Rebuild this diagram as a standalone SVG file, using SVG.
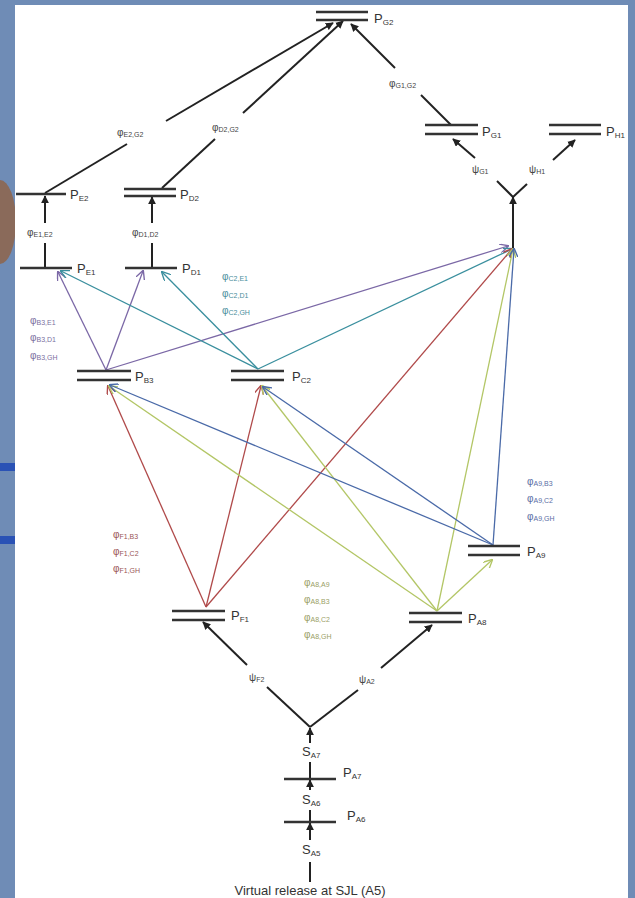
<svg xmlns="http://www.w3.org/2000/svg" width="635" height="898" viewBox="0 0 635 898">
<style>
.bar{stroke:#333;stroke-width:2.5;fill:none}
.blk{stroke:#222;stroke-width:2;fill:none}
.c{stroke-width:1.3;fill:none}
.pl{font-family:"Liberation Sans",Arial,sans-serif;font-size:13px;fill:#333}
.ph{font-family:"Liberation Sans",Arial,sans-serif;font-size:10px;fill:#444}
.sub{font-size:7px}
.psub{font-size:8px}
.pu{fill:#7b6fa0}.te{fill:#4a8e9c}.re{fill:#9a5555}.gr{fill:#9aa066}.bl{fill:#5a6ea5}
</style>
<defs>
<marker id="ak" viewBox="0 0 10 10" refX="9" refY="5" markerWidth="4" markerHeight="4" orient="auto" markerUnits="strokeWidth"><path d="M0,0 L10,5 L0,10 Z" fill="#222"/></marker>
<marker id="apu" viewBox="0 0 10 10" refX="9" refY="5" markerWidth="7" markerHeight="7" orient="auto" markerUnits="strokeWidth"><path d="M0,0 L10,5 L0,10" fill="none" stroke="#7b68a6" stroke-width="1.5"/></marker>
<marker id="ate" viewBox="0 0 10 10" refX="9" refY="5" markerWidth="7" markerHeight="7" orient="auto" markerUnits="strokeWidth"><path d="M0,0 L10,5 L0,10" fill="none" stroke="#3a8f9e" stroke-width="1.5"/></marker>
<marker id="are" viewBox="0 0 10 10" refX="9" refY="5" markerWidth="7" markerHeight="7" orient="auto" markerUnits="strokeWidth"><path d="M0,0 L10,5 L0,10" fill="none" stroke="#b04a4a" stroke-width="1.5"/></marker>
<marker id="agr" viewBox="0 0 10 10" refX="9" refY="5" markerWidth="7" markerHeight="7" orient="auto" markerUnits="strokeWidth"><path d="M0,0 L10,5 L0,10" fill="none" stroke="#b3c666" stroke-width="1.5"/></marker>
<marker id="abl" viewBox="0 0 10 10" refX="9" refY="5" markerWidth="7" markerHeight="7" orient="auto" markerUnits="strokeWidth"><path d="M0,0 L10,5 L0,10" fill="none" stroke="#4a6aa8" stroke-width="1.5"/></marker>
</defs>
<g id="background">
<rect x="0" y="0" width="635" height="898" fill="#6f8cb6"/>
<ellipse cx="0" cy="222" rx="16" ry="42" fill="#8a6a5a"/>
<rect x="0" y="463" width="16" height="8" fill="#2a52b5"/>
<rect x="0" y="536" width="16" height="8" fill="#2a52b5"/>
<rect x="15" y="5" width="613" height="893" fill="#ffffff"/>
</g>
<g id="connectors">
<g id="black">
<line class="blk" x1="45" y1="193" x2="127" y2="144"/>
<line class="blk" x1="166" y1="121" x2="333" y2="23" marker-end="url(#ak)"/>
<line class="blk" x1="162" y1="188" x2="215" y2="139"/>
<line class="blk" x1="243" y1="113" x2="343" y2="21" marker-end="url(#ak)"/>
<line class="blk" x1="451" y1="125" x2="421" y2="95"/>
<line class="blk" x1="395" y1="68" x2="351" y2="24" marker-end="url(#ak)"/>
<line class="blk" x1="45" y1="268" x2="45" y2="243"/>
<line class="blk" x1="45" y1="223" x2="45" y2="196" marker-end="url(#ak)"/>
<line class="blk" x1="152" y1="268" x2="152" y2="243"/>
<line class="blk" x1="152" y1="223" x2="152" y2="197" marker-end="url(#ak)"/>
<line class="blk" x1="513" y1="248" x2="513" y2="197" marker-end="url(#ak)"/>
<line class="blk" x1="513" y1="197" x2="497" y2="181"/>
<line class="blk" x1="475" y1="158" x2="453" y2="139" marker-end="url(#ak)"/>
<line class="blk" x1="513" y1="197" x2="527" y2="184"/>
<line class="blk" x1="553" y1="160" x2="575" y2="140" marker-end="url(#ak)"/>
<line class="blk" x1="310" y1="727" x2="267" y2="687"/>
<line class="blk" x1="247" y1="665" x2="203" y2="622" marker-end="url(#ak)"/>
<line class="blk" x1="310" y1="727" x2="358" y2="690"/>
<line class="blk" x1="381" y1="668" x2="432" y2="625" marker-end="url(#ak)"/>
<line class="blk" x1="310" y1="743" x2="310" y2="728" marker-end="url(#ak)"/>
<line class="blk" x1="310" y1="790" x2="310" y2="780" marker-end="url(#ak)"/>
<line class="blk" x1="310" y1="780" x2="310" y2="762"/>
<line class="blk" x1="310" y1="840" x2="310" y2="823" marker-end="url(#ak)"/>
<line class="blk" x1="310" y1="823" x2="310" y2="810"/>
<line class="blk" x1="310" y1="882" x2="310" y2="862"/>
</g>
<g id="purple" stroke="#7b68a6">
<line class="c" x1="106" y1="370" x2="58" y2="272" marker-end="url(#apu)"/>
<line class="c" x1="106" y1="370" x2="143" y2="271" marker-end="url(#apu)"/>
<line class="c" x1="106" y1="370" x2="508" y2="246" marker-end="url(#apu)"/>
</g>
<g id="teal" stroke="#3a8f9e">
<line class="c" x1="258" y1="369" x2="61" y2="271" marker-end="url(#ate)"/>
<line class="c" x1="258" y1="369" x2="162" y2="272" marker-end="url(#ate)"/>
<line class="c" x1="258" y1="369" x2="512" y2="249" marker-end="url(#ate)"/>
</g>
<g id="red" stroke="#b04a4a">
<line class="c" x1="206" y1="607" x2="108" y2="386" marker-end="url(#are)"/>
<line class="c" x1="206" y1="607" x2="261" y2="386" marker-end="url(#are)"/>
<line class="c" x1="206" y1="607" x2="512" y2="249" marker-end="url(#are)"/>
</g>
<g id="green" stroke="#b3c666">
<line class="c" x1="437" y1="611" x2="492" y2="560" marker-end="url(#agr)"/>
<line class="c" x1="437" y1="611" x2="109" y2="386" marker-end="url(#agr)"/>
<line class="c" x1="437" y1="611" x2="262" y2="386" marker-end="url(#agr)"/>
<line class="c" x1="437" y1="611" x2="513" y2="249" marker-end="url(#agr)"/>
</g>
<g id="blue" stroke="#4a6aa8">
<line class="c" x1="493" y1="545" x2="110" y2="385" marker-end="url(#abl)"/>
<line class="c" x1="493" y1="545" x2="263" y2="387" marker-end="url(#abl)"/>
<line class="c" x1="493" y1="545" x2="514" y2="249" marker-end="url(#abl)"/>
</g>
</g>
<g id="PG2"><path class="bar" d="M316,12H368M316,20H368"/><text class="pl" x="374" y="23">P<tspan class="psub" dy="2">G2</tspan></text></g>
<g id="PG1"><path class="bar" d="M425,125H478M425,134H478"/><text class="pl" x="482" y="136">P<tspan class="psub" dy="2">G1</tspan></text></g>
<g id="PH1"><path class="bar" d="M549,125H601M549,134H601"/><text class="pl" x="606" y="136">P<tspan class="psub" dy="2">H1</tspan></text></g>
<g id="PE2"><path class="bar" d="M16,194H66"/><text class="pl" x="70" y="199">P<tspan class="psub" dy="2">E2</tspan></text></g>
<g id="PD2"><path class="bar" d="M124,189H176M124,196H176"/><text class="pl" x="180" y="199">P<tspan class="psub" dy="2">D2</tspan></text></g>
<g id="PE1"><path class="bar" d="M20,268H72"/><text class="pl" x="77" y="273">P<tspan class="psub" dy="2">E1</tspan></text></g>
<g id="PD1"><path class="bar" d="M125,268H177"/><text class="pl" x="182" y="273">P<tspan class="psub" dy="2">D1</tspan></text></g>
<g id="PB3"><path class="bar" d="M77,371H131M77,380H131"/><text class="pl" x="135" y="381">P<tspan class="psub" dy="2">B3</tspan></text></g>
<g id="PC2"><path class="bar" d="M231,371H284M231,380H284"/><text class="pl" x="292" y="381">P<tspan class="psub" dy="2">C2</tspan></text></g>
<g id="PA9"><path class="bar" d="M468,546H520M468,555H520"/><text class="pl" x="527" y="556">P<tspan class="psub" dy="2">A9</tspan></text></g>
<g id="PF1"><path class="bar" d="M172,611H225M172,620H225"/><text class="pl" x="231" y="620">P<tspan class="psub" dy="2">F1</tspan></text></g>
<g id="PA8"><path class="bar" d="M409,613H462M409,622H462"/><text class="pl" x="468" y="623">P<tspan class="psub" dy="2">A8</tspan></text></g>
<g id="PA7"><path class="bar" d="M284,779H336"/><text class="pl" x="343" y="777">P<tspan class="psub" dy="2">A7</tspan></text></g>
<g id="PA6"><path class="bar" d="M284,822H336"/><text class="pl" x="347" y="820">P<tspan class="psub" dy="2">A6</tspan></text></g>
<g id="labels">
<text class="ph" x="117" y="136">φ<tspan class="sub" dy="1">E2,G2</tspan></text>
<text class="ph" x="212" y="131">φ<tspan class="sub" dy="1">D2,G2</tspan></text>
<text class="ph" x="389" y="87">φ<tspan class="sub" dy="1">G1,G2</tspan></text>
<text class="ph" x="27" y="236">φ<tspan class="sub" dy="1">E1,E2</tspan></text>
<text class="ph" x="132" y="236">φ<tspan class="sub" dy="1">D1,D2</tspan></text>
<text class="ph" x="472" y="173">ψ<tspan class="sub" dy="1">G1</tspan></text>
<text class="ph" x="529" y="173">ψ<tspan class="sub" dy="1">H1</tspan></text>
<text class="ph" x="249" y="681">ψ<tspan class="sub" dy="1">F2</tspan></text>
<text class="ph" x="359" y="683">ψ<tspan class="sub" dy="1">A2</tspan></text>
<g class="pu">
<text class="ph pu" x="30" y="324">φ<tspan class="sub" dy="1">B3,E1</tspan></text>
<text class="ph pu" x="30" y="341">φ<tspan class="sub" dy="1">B3,D1</tspan></text>
<text class="ph pu" x="30" y="359">φ<tspan class="sub" dy="1">B3,GH</tspan></text>
</g>
<text class="ph te" x="222" y="280">φ<tspan class="sub" dy="1">C2,E1</tspan></text>
<text class="ph te" x="222" y="297">φ<tspan class="sub" dy="1">C2,D1</tspan></text>
<text class="ph te" x="222" y="314">φ<tspan class="sub" dy="1">C2,GH</tspan></text>
<text class="ph bl" x="527" y="485">φ<tspan class="sub" dy="1">A9,B3</tspan></text>
<text class="ph bl" x="527" y="502">φ<tspan class="sub" dy="1">A9,C2</tspan></text>
<text class="ph bl" x="527" y="520">φ<tspan class="sub" dy="1">A9,GH</tspan></text>
<text class="ph re" x="113" y="538">φ<tspan class="sub" dy="1">F1,B3</tspan></text>
<text class="ph re" x="113" y="555">φ<tspan class="sub" dy="1">F1,C2</tspan></text>
<text class="ph re" x="113" y="572">φ<tspan class="sub" dy="1">F1,GH</tspan></text>
<text class="ph gr" x="304" y="586">φ<tspan class="sub" dy="1">A8,A9</tspan></text>
<text class="ph gr" x="304" y="603">φ<tspan class="sub" dy="1">A8,B3</tspan></text>
<text class="ph gr" x="304" y="621">φ<tspan class="sub" dy="1">A8,C2</tspan></text>
<text class="ph gr" x="304" y="638">φ<tspan class="sub" dy="1">A8,GH</tspan></text>
<text class="pl" x="302" y="756" font-size="12">S<tspan class="psub" dy="2">A7</tspan></text>
<text class="pl" x="302" y="804" font-size="12">S<tspan class="psub" dy="2">A6</tspan></text>
<text class="pl" x="302" y="854" font-size="12">S<tspan class="psub" dy="2">A5</tspan></text>
<text class="pl" x="310" y="895" font-size="12.5" text-anchor="middle">Virtual release at SJL (A5)</text>
</g>
</svg>
